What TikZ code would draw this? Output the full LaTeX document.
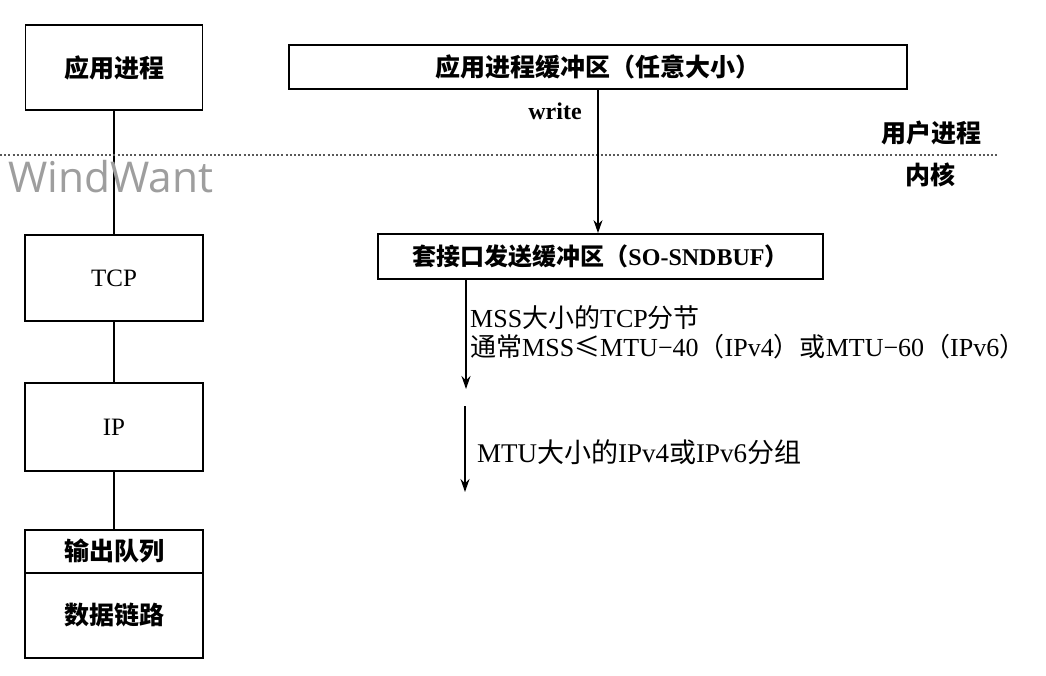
\documentclass[tikz,border=0pt]{standalone}
\usepackage{fontspec}
\usepackage{graphicx}
\setmainfont{Liberation Serif}
\newfontfamily\cjk{Noto Sans CJK SC}
\newfontfamily\wmfont{Open Sans}
\usetikzlibrary{arrows.meta}
\tikzset{
  layerbox/.style={draw, line width=1.8pt, inner sep=0pt, font=\fontsize{25pt}{30pt}\selectfont},
  bufbox/.style={draw, line width=1.8pt, inner sep=0pt, font=\fontsize{25pt}{30pt}\selectfont},
  link/.style={line width=1.6pt},
  arr/.style={line width=1.5pt, -{Stealth[length=13pt,width=9pt]}},
  sep/.style={line width=1.8pt, dash pattern=on 2pt off 2.2pt, black!65},
  note/.style={anchor=west, inner sep=0pt, font=\fontsize{26pt}{30pt}\selectfont},
  side/.style={inner sep=0pt, font=\fontsize{25pt}{30pt}\selectfont}
}
\begin{document}
\begin{tikzpicture}[x=1pt,y=-1pt]
\useasboundingbox (0,0) rectangle (1046,676);
\fill[white] (0,0) rectangle (1046,676);

% left stack
\node[layerbox, minimum width=177pt, minimum height=85pt] (app) at (114,67.5) {\cjk\bfseries 应用进程};
\node[layerbox, minimum width=178pt, minimum height=86pt] (tcp) at (114,278) {TCP};
\node[layerbox, minimum width=178pt, minimum height=88pt] (ip) at (114,427) {IP};
\node[layerbox, minimum width=178pt, minimum height=43pt] (outq) at (114,551.5) {\cjk\bfseries 输出队列};
\node[layerbox, minimum width=178pt, minimum height=85pt] (dlink) at (114,615.5) {\cjk\bfseries 数据链路};
\draw[link] (app) -- (tcp);
\draw[link] (tcp) -- (ip);
\draw[link] (ip) -- (outq);

% separator
\coordinate (sl) at (0,155);
\coordinate (sr) at (998,155);
\draw[sep] (sl) -- (sr);
\node[side, anchor=south] (user) at (931,145) {\cjk\bfseries 用户进程};
\node[side, anchor=north] (kern) at (930,163) {\cjk\bfseries 内核};

% watermark
\node[anchor=base west, inner sep=0pt, text=black!38] (wm) at (8,193) {\resizebox{205pt}{!}{\wmfont WindWant}};

% buffers
\node[bufbox, minimum width=618pt, minimum height=44pt] (buf) at (598,67) {\cjk\bfseries 应用进程缓冲区（任意大小）};
\node[note, anchor=center, font=\fontsize{24pt}{28pt}\selectfont\bfseries] (write) at (555,111) {write};
\node[bufbox, minimum width=445pt, minimum height=45pt, font=\fontsize{24pt}{28pt}\selectfont] (sock) at (600.5,256.5) {{\cjk\bfseries 套接口发送缓冲区（}\textbf{SO-SNDBUF}{\cjk\bfseries ）}};
\draw[arr] (buf.south) -- (buf.south |- sock.north);

% segments
\coordinate (a2e) at (466,389);
\draw[arr] (sock.south -| a2e) -- (a2e);
\node[note] (n1) at (470,318) {MSS{\cjk 大小的}TCP{\cjk 分节}};
\node[note] (n2) at (470,347) {{\cjk 通常}MSS{\cjk ≤}MTU−40{\cjk （}IPv4{\cjk ）或}MTU−60{\cjk （}IPv6{\cjk ）}};

\coordinate (a3s) at (465,406);
\coordinate (a3e) at (465,492);
\draw[arr] (a3s) -- (a3e);
\node[note, font=\fontsize{27pt}{30pt}\selectfont] (n3) at (477,452) {MTU{\cjk 大小的}IPv4{\cjk 或}IPv6{\cjk 分组}};
\end{tikzpicture}
\end{document}
